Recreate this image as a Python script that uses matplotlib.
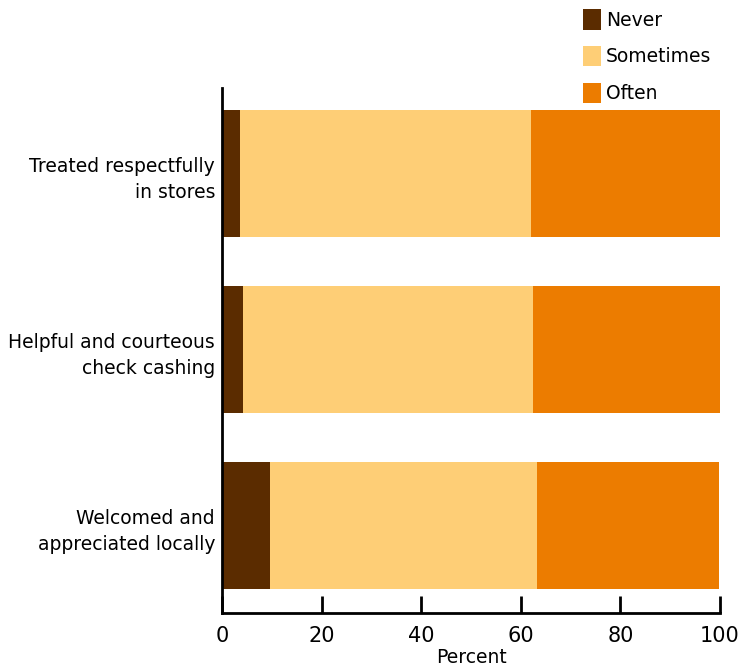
import matplotlib
matplotlib.use("Agg")
import matplotlib.pyplot as plt
import numpy as np

categories = ["Treated respectfully\nin stores",
              "Helpful and courteous\ncheck cashing",
              "Welcomed and\nappreciated locally"]
never = [3.6, 4.2, 9.6]
sometimes = [58.4, 58.2, 53.6]
often = [38.0, 37.5, 36.5]
series_names = ["Never", "Sometimes", "Often"]
colors = ["#5B2C00", "#FECE76", "#EC7C00"]
xticks = [0, 20, 40, 60, 80, 100]

plt.rcParams['font.family'] = ['DejaVu Sans']

fig = plt.figure(figsize=(7.42, 6.71), dpi=100)
ax = fig.add_axes([222/742, 1-613/671, (720-222)/742, (613-88)/671])

y = np.arange(len(categories))[::-1]
left = np.zeros(len(categories))
handles = []
for vals, name, c in zip([never, sometimes, often], series_names, colors):
    h = ax.barh(y, vals, left=left, height=0.72, color=c, label=name,
                edgecolor="none")
    handles.append(h)
    left = left + np.array(vals)

ax.set_xlim(0, 100)
ax.set_ylim(-0.497, 2.486)
ax.set_yticks(y)
ax.set_yticklabels(categories, fontsize=13.5, multialignment="right",
                   linespacing=1.5)
ax.tick_params(axis="y", length=0, pad=5)
ax.set_xticks(xticks)
ax.tick_params(axis="x", direction="in", length=12, width=2, labelsize=15, pad=9)
for s in ["top", "right"]:
    ax.spines[s].set_visible(False)
for s in ["left", "bottom"]:
    ax.spines[s].set_linewidth(2)
ax.set_xlabel("Percent", fontsize=13.5, labelpad=2)

leg = fig.legend(handles=handles, labels=series_names, loc="upper left",
                 bbox_to_anchor=(570/742, 1+4/671), frameon=False,
                 fontsize=13.5, handlelength=0.95, handleheight=1.3,
                 handletextpad=0.25, labelspacing=0.87, borderpad=0.2)

fig.savefig("out.png", dpi=100)
